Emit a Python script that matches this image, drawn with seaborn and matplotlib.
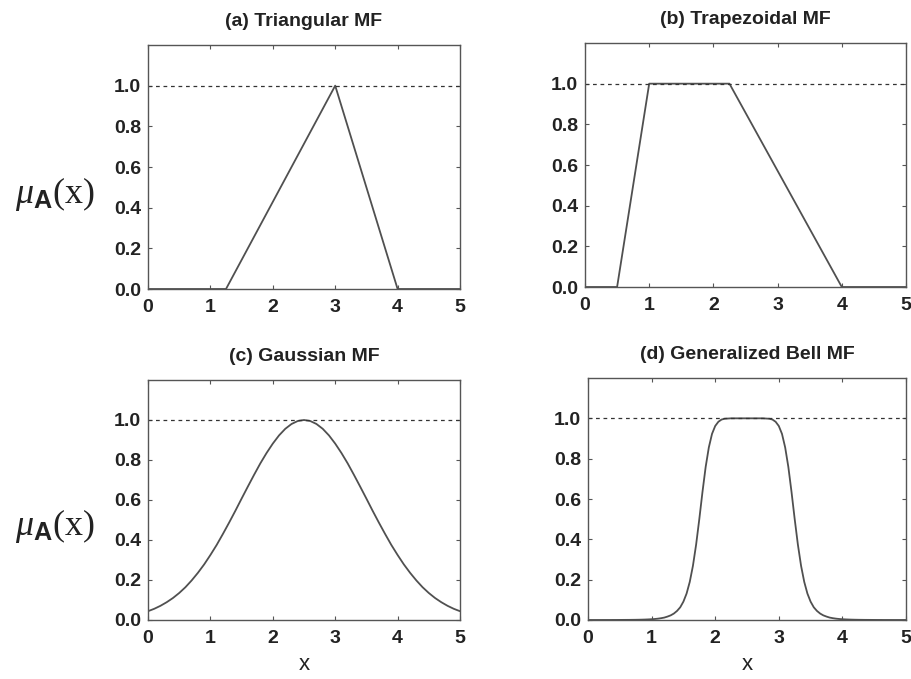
import matplotlib
matplotlib.use("Agg")
import matplotlib.pyplot as plt
import seaborn as sns

# x grid (0 .. 5 step 0.1)
x_vals = [round(i * 0.1, 1) for i in range(51)]
# finer grid for the bell (0 .. 5 step 0.05)
bell_x = [round(i * 0.05, 2) for i in range(101)]

# (a) triangular MF corner points
tri_x = [0, 1.25, 3, 4, 5]
tri_y = [0, 0, 1, 0, 0]

# (b) trapezoidal MF corner points
trap_x = [0, 0.5, 1, 2.25, 4, 5]
trap_y = [0, 0, 1, 1, 0, 0]

# (c) gaussian MF, read every 0.1
gauss_half = [0.044, 0.056, 0.071, 0.089, 0.110, 0.135, 0.164, 0.198, 0.236,
              0.278, 0.325, 0.375, 0.430, 0.487, 0.546, 0.607, 0.667, 0.726,
              0.783, 0.835, 0.882, 0.923, 0.956, 0.980, 0.995, 1.0]
gauss_y = gauss_half + gauss_half[-2::-1]

# (d) generalized bell MF, read every 0.05
bell_half = [0.0001, 0.0001, 0.0001, 0.0001, 0.0001, 0.0002, 0.0002, 0.0002,
             0.0003, 0.0003, 0.0004, 0.0005, 0.0006, 0.0007, 0.0009, 0.0011,
             0.0014, 0.0018, 0.0023, 0.003, 0.0039, 0.005, 0.0067, 0.009,
             0.012, 0.017, 0.023, 0.032, 0.045, 0.063, 0.091, 0.131, 0.189,
             0.269, 0.374, 0.5, 0.635, 0.759, 0.856, 0.923, 0.962, 0.983,
             0.994, 0.998, 0.999, 1.0, 1.0, 1.0, 1.0, 1.0, 1.0]
bell_y = bell_half + bell_half[-2::-1]

titles = ["(a) Triangular MF", "(b) Trapezoidal MF",
          "(c) Gaussian MF", "(d) Generalized Bell MF"]

sns.set_style("ticks")
plt.rcParams["font.family"] = ["Liberation Sans", "DejaVu Sans"]
plt.rcParams["mathtext.fontset"] = "custom"
plt.rcParams["mathtext.it"] = "Liberation Serif:italic"
plt.rcParams["mathtext.rm"] = "Liberation Serif"
plt.rcParams["mathtext.sf"] = "Liberation Sans:bold"

fig = plt.figure(figsize=(9.12, 6.79), dpi=100)

W, H = 912, 679
boxes = [
    (148, 45, 460, 289),
    (585, 43, 906, 287),
    (148, 380, 460, 620),
    (588, 378, 906, 620),
]
series = [(tri_x, tri_y), (trap_x, trap_y), (x_vals, gauss_y), (bell_x, bell_y)]

line_col = "#505050"

for i, (box, (xs, ys)) in enumerate(zip(boxes, series)):
    l, t, r, b = box
    ax = fig.add_axes([l / W, 1 - b / H, (r - l) / W, (b - t) / H])

    sns.lineplot(x=xs, y=ys, ax=ax, color=line_col, linewidth=1.3)
    ax.axhline(1.0, color="#333333", linestyle=(0, (3, 3)), linewidth=0.9)

    ax.set_xlim(0, 5)
    ax.set_ylim(0, 1.2)
    ax.set_xticks([0, 1, 2, 3, 4, 5])
    ax.set_yticks([0, 0.2, 0.4, 0.6, 0.8, 1.0])
    ax.set_yticklabels(["0.0", "0.2", "0.4", "0.6", "0.8", "1.0"])
    ax.tick_params(direction="in", top=True, right=True, length=3,
                   width=0.8, colors="#555555", labelcolor="#222222",
                   labelsize=14)
    ax.tick_params(axis="x", pad=7)
    ax.tick_params(axis="y", pad=5)
    for lab in ax.get_xticklabels() + ax.get_yticklabels():
        lab.set_fontweight("bold")
    for sp in ax.spines.values():
        sp.set_color("#555555")
        sp.set_linewidth(1.0)

    ax.set_title(titles[i], fontsize=14, fontweight="bold", color="#222222", pad=14)

    if i % 2 == 0:
        ax.set_ylabel(r"$\mu_{\mathsf{A}}(\mathrm{x})$", fontsize=26,
                      rotation=0, va="center", color="#222222")
        ax.yaxis.set_label_coords(-0.3, 0.39)
    if i >= 2:
        ax.set_xlabel("x", fontsize=16, color="#222222", labelpad=5)

fig.savefig("out.png", dpi=100, facecolor="white")
